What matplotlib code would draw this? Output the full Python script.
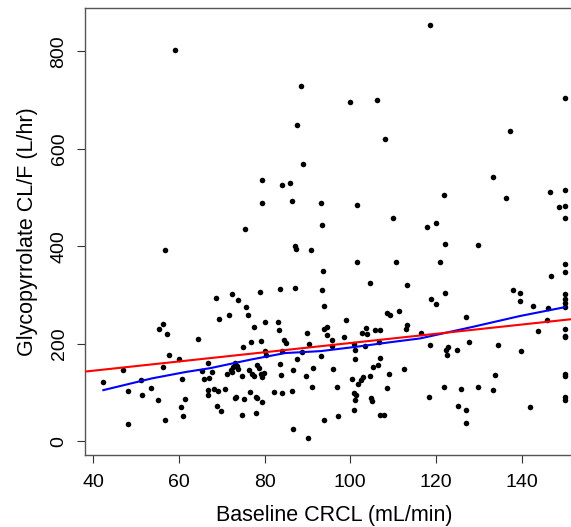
import matplotlib
matplotlib.use('Agg')
import matplotlib.pyplot as plt
import numpy as np

# baseline creatinine clearance (mL/min) and glycopyrrolate CL/F (L/hr)
crcl = [59.2, 88.4, 87.6, 89.0, 79.4, 84.0, 85.9, 79.4, 86.5, 93.2, 75.5, 93.5, 56.7, 87.1, 87.3, 90.9,
        118.6, 100.0, 106.3, 150.0, 108.0, 137.3, 133.3, 101.5, 121.8, 136.3, 146.5, 150.0, 148.6, 150.0,
        150.0, 109.9, 117.8, 119.9, 122.0, 129.8,
        93.6, 101.6, 110.7, 121.0, 150.0, 150.0,
        56.3, 55.3, 57.3, 64.5, 57.7, 60.1, 56.3, 47.1, 42.4, 51.3, 48.1, 53.6, 60.8, 51.5, 55.1, 61.5,
        60.5, 60.9, 48.1, 56.9, 65.4, 66.0, 66.9, 66.9, 66.8,
        68.7, 72.5, 73.8, 79.0, 83.7, 87.1, 93.5, 93.9, 75.7, 76.1, 69.3, 71.8, 80.2, 77.6, 83.2, 83.4,
        89.9, 93.9, 94.6, 94.6, 76.9, 79.2, 75.0, 84.5, 85.1, 90.3, 80.0, 80.3, 84.0, 88.7, 93.1, 87.6,
        67.7, 67.0, 73.0, 72.6, 73.6, 73.9, 71.2, 72.1, 72.5, 74.8, 76.3, 77.0, 77.6, 78.3, 78.7, 79.2,
        79.9, 79.3, 83.7, 83.8, 86.6, 89.7, 91.4, 91.1, 68.1, 69.1, 70.8, 68.9, 69.9, 73.0, 73.3, 75.2,
        76.7, 77.9, 78.3, 79.3, 82.1, 84.0, 86.4, 74.8, 77.9, 86.6, 90.1, 93.9,
        104.6, 113.2, 122.2, 118.8, 119.9, 108.6, 109.3, 111.4, 98.9, 113.3, 112.9, 103.6, 102.8, 103.8,
        105.7, 106.9, 98.5, 95.7, 95.8, 100.9, 101.1, 103.5, 106.8, 116.4, 118.6, 122.8, 122.4, 122.5,
        101.0, 106.9, 106.5, 105.3, 96.0, 112.6, 109.0, 104.6, 102.9, 102.4, 101.9, 100.5, 96.8, 108.6,
        121.8, 100.9, 101.3, 101.1, 104.8, 105.0, 118.4, 100.8, 97.1, 106.9, 107.9,
        146.8, 137.9, 139.5, 139.7, 142.7, 146.2, 150.0, 150.0, 150.0, 150.0, 127.1, 145.8, 143.9, 150.0,
        150.0, 150.0, 127.7, 134.4, 139.9, 124.9, 133.8, 150.0, 150.0, 125.8, 129.8, 133.4, 150.0, 150.0,
        125.2, 126.9, 127.1, 142.0]
clf = [802, 729, 648, 568, 535, 526, 530, 489, 492, 489, 435, 443, 393, 400, 395, 392,
       854, 696, 700, 704, 620, 637, 542, 485, 505, 500, 511, 515, 481, 483,
       459, 459, 440, 448, 404, 403,
       349, 368, 368, 368, 363, 347,
       240, 231, 220, 210, 177, 168, 152, 146, 121, 125, 104, 110, 127, 94, 84, 86,
       70, 51, 36, 43, 144, 127, 161, 105, 95,
       294, 303, 290, 307, 312, 314, 310, 277, 275, 260, 250, 259, 245, 235, 244, 229,
       222, 230, 234, 218, 203, 205, 194, 208, 201, 200, 185, 178, 185, 184, 175, 169,
       143, 129, 160, 153, 155, 148, 138, 146, 143, 134, 146, 139, 134, 156, 151, 138,
       140, 131, 158, 135, 146, 134, 151, 112, 108, 103, 108, 72, 62, 88, 91, 86,
       102, 91, 88, 81, 101, 99, 103, 54, 59, 25, 7, 44,
       325, 321, 305, 291, 281, 263, 259, 268, 248, 238, 231, 233, 222, 220,
       229, 229, 214, 207, 196, 200, 187, 196, 203, 222, 197, 194, 187, 177,
       168, 171, 156, 152, 148, 148, 139, 134, 132, 125, 117, 128, 112, 109,
       112, 100, 94, 85, 88, 83, 90, 64, 51, 53, 53,
       340, 310, 305, 288, 277, 274, 303, 291, 283, 276, 255, 249, 226, 231,
       215, 213, 203, 197, 185, 187, 136, 139, 134, 108, 112, 106, 90, 85,
       72, 64, 38, 70]

# smoother (blue)
smooth_x = [42.4, 53.7, 61.5, 67.3, 77.0, 84.8, 93.1, 101.5, 110.0, 116.3, 128.7, 139.6, 150.0]
smooth_y = [105, 129, 142, 150, 168, 181, 185, 194, 204, 211, 235, 257, 275]

# linear fit (red)
fit_intercept = 106.9
fit_slope = 0.947

xticks = [40, 60, 80, 100, 120, 140]
yticks = [0, 200, 400, 600, 800]

plt.rcParams['font.family'] = ['Liberation Sans', 'DejaVu Sans']

fig = plt.figure(figsize=(5.71, 5.27), dpi=100)
ax = fig.add_axes([0.1487, 0.1366, 1.021 - 0.1487, 0.9854 - 0.1366])

ax.scatter(crcl, clf, s=16, color='black', linewidths=0, zorder=3)
ax.plot(smooth_x, smooth_y, color='blue', lw=1.5, zorder=4)
ax.axline((0, fit_intercept), slope=fit_slope, color='red', lw=1.5, zorder=4)

ax.set_xlim(38.1, 154.3)
ax.set_ylim(-28.1, 889.4)
ax.set_xticks(xticks)
ax.set_yticks(yticks)
ax.tick_params(labelsize=14, length=5.5, width=0.8, color='#333333')
ax.tick_params(axis='x', pad=8.5)
ax.tick_params(axis='y', pad=7)
for lab in ax.get_yticklabels():
    lab.set_rotation(90)
    lab.set_va('center')
for s in ax.spines.values():
    s.set_color('#555555')
    s.set_linewidth(1.0)
ax.spines['right'].set_visible(False)

# axis titles
ax.set_xlabel('Baseline CRCL (mL/min)', fontsize=15.5, labelpad=9.5)
ax.set_ylabel('Glycopyrrolate CL/F (L/hr)', fontsize=15.5, labelpad=9)

fig.savefig('out.png', dpi=100)
